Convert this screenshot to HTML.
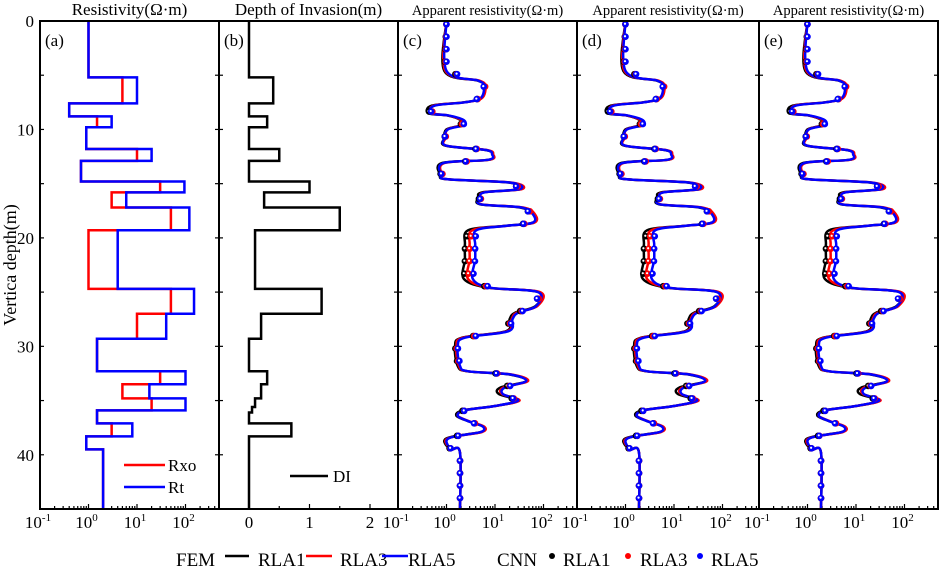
<!DOCTYPE html>
<html><head><meta charset="utf-8"><style>
html,body{margin:0;padding:0;background:#fff}
svg{display:block;font-family:"Liberation Serif",serif}
</style></head><body>
<svg id="chart" width="941" height="569" viewBox="0 0 941 569" xmlns="http://www.w3.org/2000/svg"></svg>
<script>
// ---- data ----
const rtBounds = [0,5.2,7.6,8.8,9.8,11.8,12.9,14.8,15.8,17.2,19.3,24.7,27.0,29.3,32.3,33.5,34.8,35.9,37.1,38.3,39.5,45];
const rtValues = [1,10,0.4,3,0.9,20,0.7,95,6,120,4,150,40,1.5,100,18,100,1.5,8,0.9,2];
const rxoValues = [1,5,0.4,1.5,0.9,10,0.7,30,3,50,1,50,10,1.5,30,5,20,1.5,3,0.9,2];
const diBounds = [0,5.2,7.6,8.8,9.8,11.8,12.9,14.8,15.8,17.2,19.3,24.7,27.0,29.3,32.3,33.5,34.8,35.6,36.1,37.1,38.3,45];
const diValues = [0,0.4,0,0.3,0,0.5,0,1.0,0.25,1.5,0.1,1.2,0.2,0,0.3,0.2,0.1,0.05,0,0.7,0];
const appDepth = [0,4.6,5.5,6.0,7.1,7.5,7.8,8.5,8.7,9.1,9.6,10.0,10.8,11.5,11.9,12.3,12.8,13.1,14.2,14.6,14.9,15.5,15.8,16.3,16.9,17.2,17.8,18.6,18.9,19.3,20.6,22.0,23.8,24.6,25.0,26.3,26.9,27.5,28.6,29.2,30.0,31.8,32.3,32.6,33.2,33.8,34.4,35.0,35.5,35.9,36.4,36.9,37.4,37.9,38.3,38.7,39.5,39.8,45];
const rla5 = [1.0,1.0,4.5,5.9,5.1,2.4,0.58,0.46,1.07,2.2,2.3,1.07,0.9,1.0,6.5,8.7,7.2,0.86,0.78,1.07,21,33,6.2,4.9,5.1,35,60,60,16,4.1,3.9,3.9,3.5,8.3,77,70,30,23,19,2.4,1.7,1.9,2.8,21,44,16,14.5,30,10,2.4,1.7,2.8,5.6,5.1,1.5,1.0,1.25,1.9,1.9];
const rla3 = [1.0,0.95,4.7,6.3,5.4,2.4,0.55,0.5,1.05,2.0,2.1,1.05,0.95,1.0,6.8,9.2,7.6,0.9,0.82,1.07,22,36,6.0,5.1,5.3,38,66,64,16,3.4,3.0,3.0,2.8,8.0,85,74,28,22,18,2.2,1.6,1.8,2.8,22,48,15,14,32,10,2.4,1.7,2.9,6.0,5.4,1.5,0.95,1.25,1.9,1.9];
const rla1 = [1.0,0.9,4.4,6.0,5.2,2.3,0.5,0.42,1.0,1.9,2.0,1.0,0.9,0.95,6.4,8.8,7.4,0.8,0.75,1.05,20,34,5.5,4.6,4.9,33,62,60,15,2.8,2.4,2.4,2.3,7.5,80,68,26,20,17,2.1,1.5,1.7,2.7,20,46,13,12,30,10,2.2,1.6,2.8,5.8,5.2,1.4,0.9,1.2,1.9,1.9];
const logTickLabels = ["-1","0","1","2"];
const diTickLabels = ["0","1","2"];
const depthTickLabels = ["0","10","20","30","40"];

// ---- geometry ----
const NS="http://www.w3.org/2000/svg";
const svg=document.getElementById('chart');
const TOP=21, BOT=509;
const panels=[{x0:40,x1:219},{x0:219,x1:398},{x0:398,x1:577},{x0:577,x1:759},{x0:759,x1:938}];
const DEC=48.5;
function yD(d){return TOP+(d/45)*(BOT-TOP);}
function xLog(p,v){return panels[p].x0+(Math.log10(v)+1)*DEC;}
function xDI(v){return 249+v*60.5;}
function el(tag,attrs,parent){const e=document.createElementNS(NS,tag);for(const k in attrs)e.setAttribute(k,attrs[k]);(parent||svg).appendChild(e);return e;}
function txt(s,attrs,parent){const t=el('text',attrs,parent);t.textContent=s;return t;}

// titles
const titles=[["Resistivity(Ω·m)",17],["Depth of Invasion(m)",17],["Apparent resistivity(Ω·m)",14.5],["Apparent resistivity(Ω·m)",14.5],["Apparent resistivity(Ω·m)",14.5]];
titles.forEach((t,i)=>{
  const e=txt(t[0],{x:(panels[i].x0+panels[i].x1)/2,y:15,'text-anchor':'middle','font-size':t[1],fill:'#000'});
  
  
});
// panel letters
["(a)","(b)","(c)","(d)","(e)"].forEach((s,i)=>{
  const e=txt(s,{x:panels[i].x0+5,y:46,'font-size':17});
  
  
});

// depth axis
depthTickLabels.forEach((s,i)=>{
  const e=txt(s,{x:34,y:yD(i*10)+6,'text-anchor':'end','font-size':17});
  
  
});
const yt=txt("Vertica depth(m)",{x:0,y:0,'text-anchor':'middle','font-size':18,transform:'translate(16,265) rotate(-90)'});



// ticks
const tg=el('g',{stroke:'#000','stroke-width':1.2});


panels.forEach((p,i)=>{
  for(let d=5;d<45;d+=5){
    el('line',{x1:p.x0,x2:p.x0+4,y1:yD(d),y2:yD(d)},tg);
    el('line',{x1:p.x1,x2:p.x1-4,y1:yD(d),y2:yD(d)},tg);
  }
  if(i===1){
    for(let v=0;v<=2.4;v+=0.5){const x=xDI(v);el('line',{x1:x,x2:x,y1:BOT,y2:BOT-(v%1===0?5:3)},tg);}
  } else {
    for(let k=-1;k<=2;k++){for(let m=1;m<=9;m++){const x=xLog(i,m*Math.pow(10,k));if(x>p.x1-1)continue;el('line',{x1:x,x2:x,y1:BOT,y2:BOT-(m===1?5:3)},tg);}}
  }
});
// tick labels bottom
panels.forEach((p,i)=>{
  if(i===1){
    diTickLabels.forEach((s,j)=>{const e=txt(s,{x:xDI(+s),y:528,'text-anchor':'middle','font-size':17});
      
      });
  } else {
    logTickLabels.forEach(s=>{
      const x=xLog(i,Math.pow(10,+s));
      const e=txt('',{x:x-2,y:528,'text-anchor':'middle','font-size':17});
      
      
      const a=document.createElementNS(NS,'tspan');a.textContent='10';e.appendChild(a);
      const b=document.createElementNS(NS,'tspan');b.textContent=s;b.setAttribute('dy','-7');b.setAttribute('font-size','11');e.appendChild(b);
    });
  }
});

// panel (a) steps
function stepPath(bounds,vals,xf){
  let d='M'+xf(vals[0])+','+yD(bounds[0]);
  for(let i=0;i<vals.length;i++){
    d+=' H'+xf(vals[i])+' V'+yD(bounds[i+1]);
  }
  return d;
}
const rxo=el('path',{d:stepPath(rtBounds,rxoValues,v=>xLog(0,v)),fill:'none',stroke:'#f00','stroke-width':2.5});


const rt=el('path',{d:stepPath(rtBounds,rtValues,v=>xLog(0,v)),fill:'none',stroke:'#00f','stroke-width':2.5});


const di=el('path',{d:stepPath(diBounds,diValues,xDI),fill:'none',stroke:'#000','stroke-width':2.5});



// legends in a, b
const la=el('g',{});


el('line',{x1:124,x2:165,y1:465,y2:465,stroke:'#f00','stroke-width':2.5},la);
txt('Rxo',{x:168,y:471,'font-size':17},la);
el('line',{x1:124,x2:165,y1:487,y2:487,stroke:'#00f','stroke-width':2.5},la);
txt('Rt',{x:168,y:493,'font-size':17},la);
const lb=el('g',{});


el('line',{x1:290,x2:328,y1:476,y2:476,stroke:'#000','stroke-width':2.5},lb);
txt('DI',{x:333,y:482,'font-size':17},lb);

// apparent resistivity curves
function smoothPath(pts){
  let d='M'+pts[0][0].toFixed(1)+','+pts[0][1].toFixed(1);
  for(let i=0;i<pts.length-1;i++){
    const p0=pts[Math.max(0,i-1)],p1=pts[i],p2=pts[i+1],p3=pts[Math.min(pts.length-1,i+2)];
    const c1=[p1[0]+(p2[0]-p0[0])/6,p1[1]+(p2[1]-p0[1])/6];
    const c2=[p2[0]-(p3[0]-p1[0])/6,p2[1]-(p3[1]-p1[1])/6];
    d+=' C'+c1[0].toFixed(1)+','+c1[1].toFixed(1)+' '+c2[0].toFixed(1)+','+c2[1].toFixed(1)+' '+p2[0].toFixed(1)+','+p2[1].toFixed(1);
  }
  return d;
}
function interp(vals,d){
  for(let i=0;i<appDepth.length-1;i++){
    if(d>=appDepth[i]&&d<=appDepth[i+1]){const t=(d-appDepth[i])/(appDepth[i+1]-appDepth[i]);
      return Math.pow(10,Math.log10(vals[i])*(1-t)+Math.log10(vals[i+1])*t);}
  }
  return vals[vals.length-1];
}
const series=[[rla1,'#000','rla1'],[rla3,'#f00','rla3'],[rla5,'#00f','rla5']];
[2,3,4].forEach(p=>{
  const g=el('g',{});
  
  
  series.forEach(s=>{
    const pts=appDepth.map((d,i)=>[xLog(p,s[0][i]),yD(d)]);
    const pa=el('path',{d:smoothPath(pts),fill:'none',stroke:s[1],'stroke-width':2.5,'stroke-linejoin':'round'},g);
    
    
  });
  series.forEach(s=>{
    for(let d=0.3;d<45;d+=1.15){
      const c=el('circle',{cx:xLog(p,interp(s[0],d)),cy:yD(d),r:3.3,fill:s[1]},g);
      
      
      el('circle',{cx:xLog(p,interp(s[0],d))-0.5,cy:yD(d)-0.5,r:1.1,fill:'#fff'},g);
    }
  });
});

// frame
const fr=el('g',{stroke:'#000','stroke-width':2,fill:'none'});


el('rect',{x:40,y:TOP,width:898,height:BOT-TOP},fr);
panels.slice(1).forEach(p=>el('line',{x1:p.x0,x2:p.x0,y1:TOP,y2:BOT},fr));

// bottom legend
const lg=el('g',{'font-size':19});


txt('FEM',{x:176,y:566},lg);
el('line',{x1:225,x2:249,y1:556,y2:556,stroke:'#000','stroke-width':2.5},lg);
txt('RLA1',{x:258,y:566},lg);
el('line',{x1:306,x2:332,y1:556,y2:556,stroke:'#f00','stroke-width':2.5},lg);
txt('RLA3',{x:340,y:566},lg);
el('line',{x1:382,x2:408,y1:556,y2:556,stroke:'#00f','stroke-width':2.5},lg);
txt('RLA5',{x:408,y:566},lg);
txt('CNN',{x:497,y:566},lg);
[[552,'#000','RLA1',563],[628,'#f00','RLA3',640],[700,'#00f','RLA5',711]].forEach(m=>{
  el('circle',{cx:m[0],cy:556,r:3,fill:m[1]},lg);
  txt(m[2],{x:m[3],y:566},lg);
});
</script>
</body></html>
